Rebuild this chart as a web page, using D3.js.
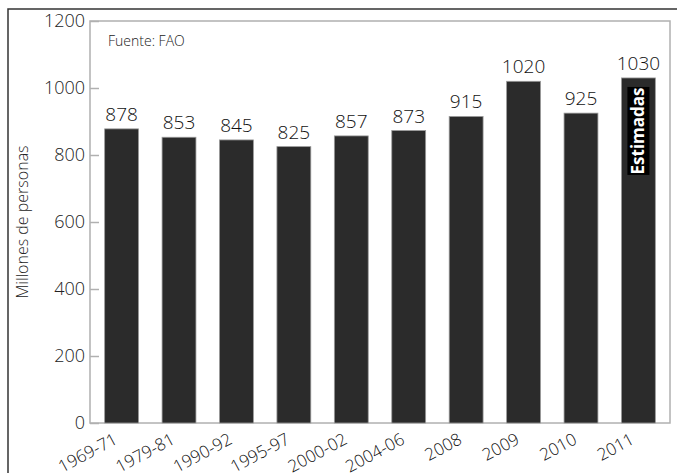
<!DOCTYPE html>
<html>
<head>
<meta charset="utf-8">
<script src="https://cdn.jsdelivr.net/npm/d3@7"></script>
<style>
  body { margin: 0; background: #fff; }
  text { font-family: "Open Sans", "Noto Sans", sans-serif; font-stretch: 90%; font-weight: 350; }
</style>
</head>
<body>
<div id="chart"></div>
<script>
// data
const periods = ["1969-71", "1979-81", "1990-92", "1995-97", "2000-02", "2004-06", "2008", "2009", "2010", "2011"];
const hungry = [878, 853, 845, 825, 857, 873, 915, 1020, 925, 1030];
const yTicks = [0, 200, 400, 600, 800, 1000, 1200];

const W = 677, H = 473;
const plotL = 90, plotR = 670, plotT = 21, plotB = 423;

var svg = d3.select("#chart").append("svg")
    .attr("width", W)
    .attr("height", H);

//outer frame
svg.append("rect")
    .attr("x", 8).attr("y", 9)
    .attr("width", 680).attr("height", 480)
    .attr("fill", "none")
    .attr("stroke", "#333")
    .attr("stroke-width", 1.5);

var x = d3.scaleBand()
    .domain(periods)
    .range([plotL, plotR])
    .paddingInner(0.41)
    .paddingOuter(0.255);

var y = d3.scaleLinear()
    .domain([0, 1200])
    .range([plotB, plotT]);

//plot frame
svg.append("rect")
    .attr("x", plotL).attr("y", plotT)
    .attr("width", plotR - plotL).attr("height", plotB - plotT)
    .attr("fill", "none")
    .attr("stroke", "#b0b0b0")
    .attr("stroke-width", 1.5);

//y axis, ticks pointing inward
var yAxis = svg.append("g")
    .attr("transform", "translate(" + plotL + ",0)")
    .call(d3.axisRight(y).tickValues(yTicks).tickSize(9).tickFormat(""));
yAxis.select(".domain").remove();
yAxis.selectAll("line").attr("stroke", "#b0b0b0").attr("stroke-width", 1.5);

svg.append("g").selectAll("text")
    .data(yTicks)
    .enter().append("text")
    .attr("x", 85)
    .attr("y", d => y(d) + 6)
    .attr("text-anchor", "end")
    .attr("font-size", 18)
    .attr("fill", "#222")
    .text(d => d);

//axis title
svg.append("text")
    .attr("transform", "translate(28," + ((plotT + plotB) / 2) + ") rotate(-90)")
    .attr("text-anchor", "middle")
    .attr("font-size", 16)
    .attr("fill", "#222")
    .text("Millones de personas");

svg.append("text")
    .attr("x", 108).attr("y", 46)
    .attr("font-size", 14)
    .attr("fill", "#222")
    .text("Fuente: FAO");

//bars
svg.append("g").selectAll("rect")
    .data(hungry)
    .enter().append("rect")
    .attr("x", (d, i) => x(periods[i]))
    .attr("y", d => y(d))
    .attr("width", x.bandwidth())
    .attr("height", d => plotB - y(d))
    .attr("fill", "#2b2b2b")
    .attr("stroke", "#9a9a9a")
    .attr("stroke-width", 0.8);

//value labels
svg.append("g").selectAll("text")
    .data(hungry)
    .enter().append("text")
    .attr("x", (d, i) => x(periods[i]) + x.bandwidth() / 2)
    .attr("y", d => y(d) - 8)
    .attr("text-anchor", "middle")
    .attr("font-size", 19)
    .attr("fill", "#111")
    .text(d => d);

//rotated category labels
svg.append("g").selectAll("text")
    .data(periods)
    .enter().append("text")
    .attr("transform", d => "translate(" + (x(d) + x.bandwidth() / 2 - 3) + ",443) rotate(-28)")
    .attr("text-anchor", "end")
    .attr("font-size", 17)
    .attr("fill", "#111")
    .text(d => d);

//"Estimadas" marker inside last bar
var last = periods[periods.length - 1];
var cx = x(last) + x.bandwidth() / 2;
var cy = y(hungry[hungry.length - 1]) + 53;
var est = svg.append("g").attr("transform", "translate(" + cx + "," + cy + ") rotate(-90)");
est.append("rect")
    .attr("x", -44).attr("y", -11)
    .attr("width", 88).attr("height", 22)
    .attr("fill", "#000");
est.append("text")
    .attr("x", 0).attr("y", 6)
    .attr("text-anchor", "middle")
    .attr("font-size", 17)
    .style("font-weight", "bold")
    .attr("fill", "#fff")
    .text("Estimadas");
</script>
</body>
</html>
